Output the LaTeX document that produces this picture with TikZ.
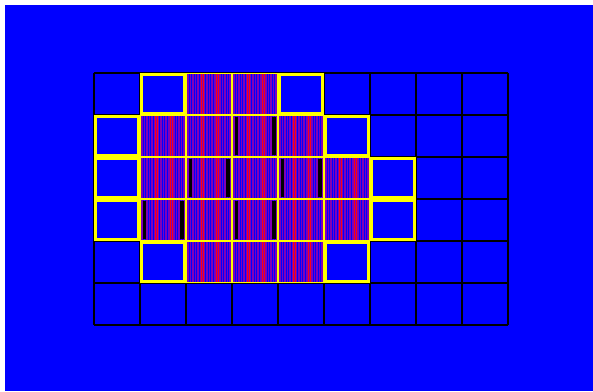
\documentclass[tikz,border=0pt]{standalone}
\usepackage{tikz}
\definecolor{gblue}{HTML}{0000FF}
\definecolor{gviolet}{HTML}{8000B8}
\definecolor{gred}{HTML}{FF0010}
\definecolor{gyellow}{HTML}{FFFF00}

\begin{document}
\begin{tikzpicture}[x=1pt, y=-1pt,
    stripecell/.style={draw=gyellow, line width=1pt, fill=gviolet, inner sep=0pt,
                       minimum width=45pt, minimum height=41pt,
                       path picture={
                         \foreach \sx in {2,4.5,7,9.5,12,18.5,21,23.5,26,34,36.5,39,41.5}
                           \fill[gblue] ([xshift=\sx pt]path picture bounding box.north west) rectangle ++(1pt,-42pt);
                         \foreach \sx in {14,16.3,29.5,31.8}
                           \fill[gred] ([xshift=\sx pt]path picture bounding box.north west) rectangle ++(0.8pt,-42pt);
                         \draw[gblue, line width=1pt] (path picture bounding box.north west) rectangle (path picture bounding box.south east);
                       }},
    hollowcell/.style={draw=gyellow, line width=3pt, inner sep=0pt,
                       minimum width=43pt, minimum height=39pt},
    blackbar/.style={fill=black}]

    % background
    \fill[white] (0,0) rectangle (593,391);
    \fill[gblue] (5,5) rectangle (593,391);

    % 9 x 6 grid
    \foreach \gx in {0,...,9}
      \draw[black, line width=1.2pt] (94+46*\gx,73) -- (94+46*\gx,325);
    \foreach \gy in {0,...,6}
      \draw[black, line width=1.2pt] (94,73+42*\gy) -- (508,73+42*\gy);

    % striped cells (row/col)
    \foreach \r/\c in {0/2,0/3, 1/1,1/2,1/3,1/4, 2/1,2/2,2/3,2/4,2/5, 3/1,3/2,3/3,3/4,3/5, 4/2,4/3,4/4}
      \node[stripecell] (s-\r-\c) at (117+46*\c, 94+42*\r) {};

    % hollow cells round them
    \foreach \r/\c in {0/1,0/4, 1/0,1/5, 2/0,2/6, 3/0,3/6, 4/1,4/5}
      \node[hollowcell] (h-\r-\c) at (117+46*\c, 94+42*\r) {};

    % black bars
    \foreach \r/\c in {1/3, 2/2, 2/4, 3/1, 3/3} {
      \fill[blackbar] ([shift={(2.5pt,-2pt)}]s-\r-\c.north west) rectangle ++(3.5pt,-37.5pt);
      \fill[blackbar] ([shift={(-6pt,-2pt)}]s-\r-\c.north east) rectangle ++(3.5pt,-37.5pt);
    }
\end{tikzpicture}
\end{document}
